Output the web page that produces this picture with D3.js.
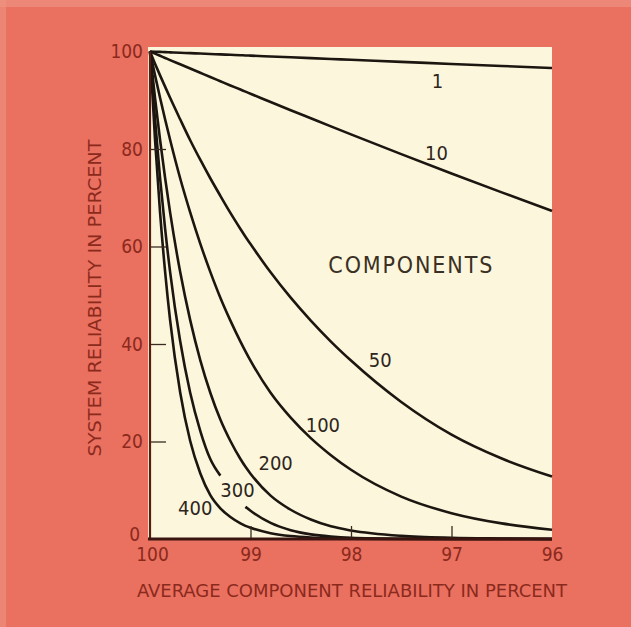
<!DOCTYPE html>
<html>
<head>
<meta charset="utf-8">
<script src="https://cdn.jsdelivr.net/npm/d3@7"></script>
<style>
  html, body { margin: 0; padding: 0; background: #EA7060; }
  svg { display: block; }
  .lettering { font-family: "DejaVu Sans Condensed", "DejaVu Sans", sans-serif; font-stretch: condensed; }
</style>
</head>
<body>
<svg id="chart" width="631" height="627"></svg>
<script>
// Average component reliability (percent), shared by every curve
const reliability = [100, 99.95, 99.9, 99.85, 99.8, 99.7, 99.6, 99.5, 99.4, 99.3, 99.2, 99.1, 99.05, 99.0,
                     98.8, 98.6, 98.4, 98.2, 98.0, 97.5, 97.0, 96.5, 96.0];

// System reliability (percent) for systems built from N components
const sys1   = [100, 99.96, 99.92, 99.87, 99.83, 99.75, 99.66, 99.58, 99.49, 99.41, 99.32, 99.24, 99.19, 99.15,
                98.98, 98.81, 98.64, 98.47, 98.3, 97.88, 97.45, 97.03, 96.6];
const sys10  = [100, 99.56, 99.12, 98.68, 98.24, 97.37, 96.5, 95.63, 94.76, 93.9, 93.04, 92.19, 91.76, 91.34,
                89.64, 87.96, 86.3, 84.64, 83.0, 78.95, 74.99, 71.1, 67.3];
const sys50  = [100, 97.5, 95.1, 92.8, 90.5, 86.1, 81.8, 77.8, 74.0, 70.4, 66.9, 63.6, 62.0, 60.5,
                54.7, 49.5, 44.8, 40.5, 36.6, 28.1, 21.4, 16.5, 12.8];
const sys100 = [100, 95.1, 90.5, 86.1, 81.9, 74.0, 67.0, 60.6, 54.8, 49.5, 44.8, 40.5, 38.5, 36.6,
                30.0, 24.9, 20.7, 17.2, 14.2, 8.7, 5.3, 3.2, 1.9];
const sys200 = [100, 90.5, 81.9, 74.1, 67.0, 54.8, 44.9, 36.7, 30.0, 24.5, 20.1, 16.4, 14.8, 13.4,
                8.9, 6.0, 4.0, 2.6, 1.75, 0.65, 0.25, 0.1, 0];
// the 300 curve is broken where its label sits
const sys300 = [100, 86.1, 74.1, 63.7, 54.8, 40.6, 30.0, 22.2, 16.4, 13.0, null, null, 6.6, 5.8,
                3.3, 1.8, 0.95, 0.5, 0.25, 0.05, 0, 0, 0];
const sys400 = [100, 81.9, 67.0, 54.9, 44.9, 30.1, 20.1, 13.5, 9.0, 6.3, 4.5, 3.2, 2.7, 2.3,
                1.2, 0.6, 0.3, 0.15, 0.07, 0.01, 0, 0, 0];

const componentCounts = ["1", "10", "50", "100", "200", "300", "400"];
const seriesValues = [sys1, sys10, sys50, sys100, sys200, sys300, sys400];

const xTicks = [100, 99, 98, 97, 96];
const yTicks = [0, 20, 40, 60, 80, 100];

const xTitle = "AVERAGE COMPONENT RELIABILITY IN PERCENT";
const yTitle = "SYSTEM RELIABILITY IN PERCENT";
const groupTitle = "COMPONENTS";

// where each curve's count is lettered, in chart units [reliability, system %]
const labelSpots = {
  "1": [97.14, 92.5], "10": [97.15, 77.7], "50": [97.71, 35.3], "100": [98.28, 21.9],
  "200": [98.75, 14.2], "300": [99.13, 8.6], "400": [99.55, 4.9]
};

const svg = d3.select("#chart");
const W = 631, H = 627;

const x = d3.scaleLinear().domain([100, 96]).range([150, 552]);
const y = d3.scaleLinear().domain([0, 100]).range([539, 51.5]);

// page colour with a faint lighter edge along the top and left
svg.append("rect").attr("width", W).attr("height", H).attr("fill", "#EA7060");
svg.append("rect").attr("width", W).attr("height", 7).attr("fill", "#EE9282").attr("opacity", 0.7);
svg.append("rect").attr("width", 6).attr("height", H).attr("fill", "#EE9282").attr("opacity", 0.6);

// cream plotting panel
svg.append("rect")
  .attr("x", x(100) - 2).attr("y", y(100) - 4.5)
  .attr("width", x(96) - x(100) + 2).attr("height", y(0) - y(100) + 4.5)
  .attr("fill", "#FCF7DC");

const ink = "#1c1611";
const redInk = "#8A2A1C";

// curves
const line = d3.line()
  .defined(d => d[1] !== null)
  .x(d => x(d[0]))
  .y(d => y(d[1]))
  .curve(d3.curveMonotoneX);

const curves = svg.append("g");
seriesValues.forEach(vals => {
  const pts = reliability.map((r, j) => [r, vals[j]]);
  curves.append("path")
    .datum(pts)
    .attr("d", line)
    .attr("fill", "none")
    .attr("stroke", ink)
    .attr("stroke-width", 2.6)
    .attr("stroke-linejoin", "round")
    .attr("stroke-linecap", "butt");
});

// x axis: ticks rise into the panel, labels below
const xAxis = svg.append("g")
  .attr("transform", `translate(0,${y(0)})`)
  .call(d3.axisBottom(x).tickValues(xTicks).tickSizeInner(-13).tickSizeOuter(0).tickPadding(9)
    .tickFormat(d3.format("d")));
xAxis.select(".domain").remove();
xAxis.selectAll(".tick line")
  .attr("stroke", "#3a2a20").attr("stroke-width", 1.3)
  .filter(d => d === 100 || d === 96).remove();
xAxis.selectAll(".tick text")
  .attr("class", "lettering")
  .attr("fill", redInk).attr("font-size", 19)
  .attr("dx", d => d === 100 ? 2 : 0);

// y axis: ticks point into the panel, labels to the left
const yAxis = svg.append("g")
  .attr("transform", `translate(${x(100)},0)`)
  .call(d3.axisLeft(y).tickValues(yTicks).tickSizeInner(-16).tickSizeOuter(0).tickPadding(7)
    .tickFormat(d3.format("d")));
yAxis.select(".domain").remove();
yAxis.selectAll(".tick line")
  .attr("stroke", "#3a2a20").attr("stroke-width", 1.3)
  .filter(d => d === 0 || d === 100).remove();
yAxis.selectAll(".tick text")
  .attr("class", "lettering")
  .attr("fill", redInk).attr("font-size", 19)
  .attr("dy", d => d === 0 ? "0.1em" : "0.32em")
  .attr("dx", d => d === 0 ? -3 : 0);

// axis rules
svg.append("line")
  .attr("x1", x(100)).attr("x2", x(100))
  .attr("y1", y(100)).attr("y2", y(0))
  .attr("stroke", "#5a1c12").attr("stroke-width", 2.2);
svg.append("line")
  .attr("x1", x(100) - 2).attr("x2", x(96))
  .attr("y1", y(0)).attr("y2", y(0))
  .attr("stroke", "#3a1510").attr("stroke-width", 3);

// curve labels
const labels = svg.append("g").attr("class", "lettering");
componentCounts.forEach(c => {
  const [r, v] = labelSpots[c];
  labels.append("text")
    .attr("x", x(r)).attr("y", y(v))
    .attr("text-anchor", "middle")
    .attr("font-size", 20)
    .attr("fill", "#2e261c")
    .text(c);
});
labels.append("text")
  .attr("x", x(97.41)).attr("y", y(54.6))
  .attr("text-anchor", "middle")
  .attr("font-size", 23)
  .attr("textLength", 164).attr("lengthAdjust", "spacing")
  .attr("fill", "#3a3024")
  .text(groupTitle);

// axis titles
svg.append("text")
  .attr("class", "lettering")
  .attr("x", 352).attr("y", 597)
  .attr("text-anchor", "middle")
  .attr("font-size", 18)
  .attr("textLength", 430).attr("lengthAdjust", "spacingAndGlyphs")
  .attr("fill", redInk)
  .text(xTitle);

svg.append("text")
  .attr("class", "lettering")
  .attr("transform", "translate(101,298) rotate(-90)")
  .attr("text-anchor", "middle")
  .attr("font-size", 18)
  .attr("textLength", 317).attr("lengthAdjust", "spacingAndGlyphs")
  .attr("fill", redInk)
  .text(yTitle);
</script>
</body>
</html>
